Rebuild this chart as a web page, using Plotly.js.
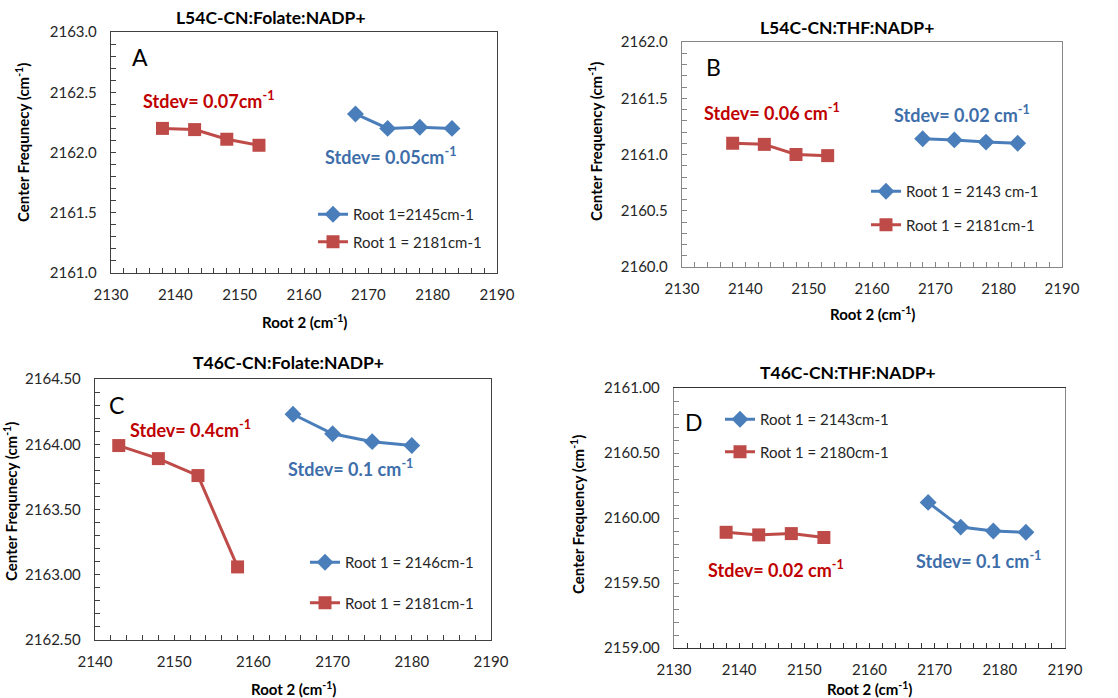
<!DOCTYPE html>
<html>
<head>
<meta charset="utf-8">
<script src="https://cdn.plot.ly/plotly-3.0.1.min.js"></script>
<style>html,body{margin:0;padding:0;background:#fff;}#chart{width:1118px;height:698px;}</style>
</head>
<body>
<div id="chart"></div>
<script>
// ---- Data ----
const xA_blue = [2168, 2173, 2178, 2183];
const yA_blue = [2162.32, 2162.20, 2162.21, 2162.20];
const xA_red  = [2138, 2143, 2148, 2153];
const yA_red  = [2162.20, 2162.19, 2162.11, 2162.06];

const xB_blue = [2168, 2173, 2178, 2183];
const yB_blue = [2161.14, 2161.13, 2161.11, 2161.10];
const xB_red  = [2138, 2143, 2148, 2153];
const yB_red  = [2161.10, 2161.09, 2161.00, 2160.99];

const xC_blue = [2165, 2170, 2175, 2180];
const yC_blue = [2164.23, 2164.08, 2164.02, 2163.99];
const xC_red  = [2143, 2148, 2153, 2158];
const yC_red  = [2163.99, 2163.89, 2163.76, 2163.06];

const xD_blue = [2169, 2174, 2179, 2184];
const yD_blue = [2160.12, 2159.93, 2159.90, 2159.89];
const xD_red  = [2138, 2143, 2148, 2153];
const yD_red  = [2159.89, 2159.87, 2159.88, 2159.85];

const panelTitles = ["L54C-CN:Folate:NADP+", "L54C-CN:THF:NADP+", "T46C-CN:Folate:NADP+", "T46C-CN:THF:NADP+"];
const panelLetters = ["A", "B", "C", "D"];
const blueNames = ["Root 1=2145cm-1", "Root 1 = 2143 cm-1", "Root 1 = 2146cm-1", "Root 1 = 2143cm-1"];
const redNames  = ["Root 1 = 2181cm-1", "Root 1 = 2181cm-1", "Root 1 = 2181cm-1", "Root 1 = 2180cm-1"];
const redStdev  = ["Stdev= 0.07cm<sup>-1</sup>", "Stdev= 0.06 cm<sup>-1</sup>", "Stdev= 0.4cm<sup>-1</sup>", "Stdev= 0.02 cm<sup>-1</sup>"];
const blueStdev = ["Stdev= 0.05cm<sup>-1</sup>", "Stdev= 0.02 cm<sup>-1</sup>", "Stdev= 0.1 cm<sup>-1</sup>", "Stdev= 0.1 cm<sup>-1</sup>"];
const yTitles = ["Center Frequnecy (cm<sup>-1</sup>)", "Center Frequency (cm<sup>-1</sup>)", "Center Frequnecy (cm<sup>-1</sup>)", "Center Frequency (cm<sup>-1</sup>)"];
const xTitle = "Root 2 (cm<sup>-1</sup>)";
const xRanges = [[2130, 2190], [2130, 2190], [2140, 2190], [2130, 2190]];
const yRanges = [[2161, 2163], [2160, 2162], [2162.5, 2164.5], [2159, 2161]];
const yFormats = [".1f", ".1f", ".2f", ".2f"];

const blueX = [xA_blue, xB_blue, xC_blue, xD_blue];
const blueY = [yA_blue, yB_blue, yC_blue, yD_blue];
const redX  = [xA_red, xB_red, xC_red, xD_red];
const redY  = [yA_red, yB_red, yC_red, yD_red];

// ---- Layout geometry (pixels) ----
const W = 1118, H = 698;
const px = v => v / W;
const py = v => 1 - v / H;
const boxes = [ // left, right, top, bottom
  [111, 497, 32, 273],
  [682, 1062, 42, 267],
  [95, 491, 379, 640],
  [674, 1065, 388, 648]
];
const titlePos = [[271, 18], [847, 27], [289, 362], [848, 372]];
const letterPos = [[140, 57], [713, 67], [116, 405], [694, 422]];
const redStdPos = [[208, 100], [772, 112], [190, 429], [776, 569]];
const blueStdPos = [[390, 156], [962, 114], [350, 468], [978, 560]];
const yTitlePos = [[22, 143], [595, 142], [10, 502], [577, 515]];
const xTitlePos = [[304, 321], [872, 313], [293, 688], [869, 688]];
const legendPos = [[313, 198, 5], [866, 175, 11], [305, 546, 18], [720, 403, 10]]; // left, top, gap
const lineColors = [["#404040", "#404040"], ["#868686", "#868686"], ["#404040", "#404040"], ["#333333", "#868686"]];

const BLUE = "#4A7EBB", RED = "#BE4B48";
const BLUE_TXT = "#3E6EAA", RED_TXT = "#C00000";
const FONT = "Lato, 'Open Sans', sans-serif";

const traces = [];
const layout = {
  width: W, height: H,
  margin: {l: 0, r: 0, t: 0, b: 0},
  paper_bgcolor: "#fff", plot_bgcolor: "#fff",
  font: {family: FONT, size: 15, color: "#262626"},
  showlegend: true,
  annotations: []
};

for (let i = 0; i < 4; i++) {
  const n = i === 0 ? "" : String(i + 1);
  const xa = "x" + n, ya = "y" + n;
  const lg = i === 0 ? "legend" : "legend" + (i + 1);
  traces.push({
    x: blueX[i], y: blueY[i], xaxis: xa, yaxis: ya, type: "scatter", mode: "lines+markers",
    name: blueNames[i], legend: lg, legendgroup: "b" + i,
    line: {color: BLUE, width: 3},
    marker: {symbol: "diamond", size: 13, color: BLUE}
  });
  traces.push({
    x: redX[i], y: redY[i], xaxis: xa, yaxis: ya, type: "scatter", mode: "lines+markers",
    name: redNames[i], legend: lg, legendgroup: "r" + i,
    line: {color: RED, width: 3},
    marker: {symbol: "square", size: 13, color: RED}
  });
  const b = boxes[i];
  layout["xaxis" + n] = {
    domain: [px(b[0]), px(b[1])], anchor: ya, range: xRanges[i], dtick: 10, tick0: 2130,
    showgrid: false, zeroline: false, showline: true, mirror: true,
    linecolor: lineColors[i][0], linewidth: 1.2,
    ticks: "inside", ticklen: 5, tickcolor: lineColors[i][0], tickwidth: 1,
    minor: {dtick: 2, ticks: "inside", ticklen: 5, tickcolor: lineColors[i][0], showgrid: false},
    ticklabelstandoff: 8, tickfont: {size: 15, family: FONT, color: "#262626"}, fixedrange: true
  };
  layout["yaxis" + n] = {
    domain: [py(b[3]), py(b[2])], anchor: xa, range: yRanges[i], dtick: 0.5,
    tickformat: yFormats[i],
    showgrid: false, zeroline: false, showline: true, mirror: true,
    linecolor: lineColors[i][1], linewidth: 1.2,
    ticks: "inside", ticklen: 5, tickcolor: lineColors[i][1], tickwidth: 1,
    minor: {dtick: 0.1, ticks: "inside", ticklen: 5, tickcolor: lineColors[i][1], showgrid: false},
    ticklabelstandoff: 10, tickfont: {size: 15, family: FONT, color: "#262626"}, fixedrange: true
  };
  const lp = legendPos[i];
  layout[lg] = {
    x: px(lp[0]), y: py(lp[1]), xanchor: "left", yanchor: "top",
    bgcolor: "rgba(0,0,0,0)", borderwidth: 0,
    font: {family: FONT, size: 15, color: "#262626"},
    traceorder: "grouped", tracegroupgap: lp[2], itemwidth: 30
  };
  const ann = (pos, text, size, color, bold, extra) => Object.assign({
    xref: "paper", yref: "paper", x: px(pos[0]), y: py(pos[1]),
    xanchor: "center", yanchor: "middle", showarrow: false,
    text: bold ? "<b>" + text + "</b>" : text,
    font: {family: FONT, size: size, color: color}
  }, extra || {});
  layout.annotations.push(ann(titlePos[i], panelTitles[i], 17.5, "#000", true));
  layout.annotations.push(ann(letterPos[i], panelLetters[i], 23, "#000", false));
  layout.annotations.push(ann(redStdPos[i], redStdev[i], 18, RED_TXT, true));
  layout.annotations.push(ann(blueStdPos[i], blueStdev[i], 18, BLUE_TXT, true));
  layout.annotations.push(ann(yTitlePos[i], yTitles[i], 15, "#000", true, {textangle: -90}));
  layout.annotations.push(ann(xTitlePos[i], xTitle, 15, "#000", true));
}

Plotly.newPlot("chart", traces, layout, {displayModeBar: false, staticPlot: true});
</script>
</body>
</html>
